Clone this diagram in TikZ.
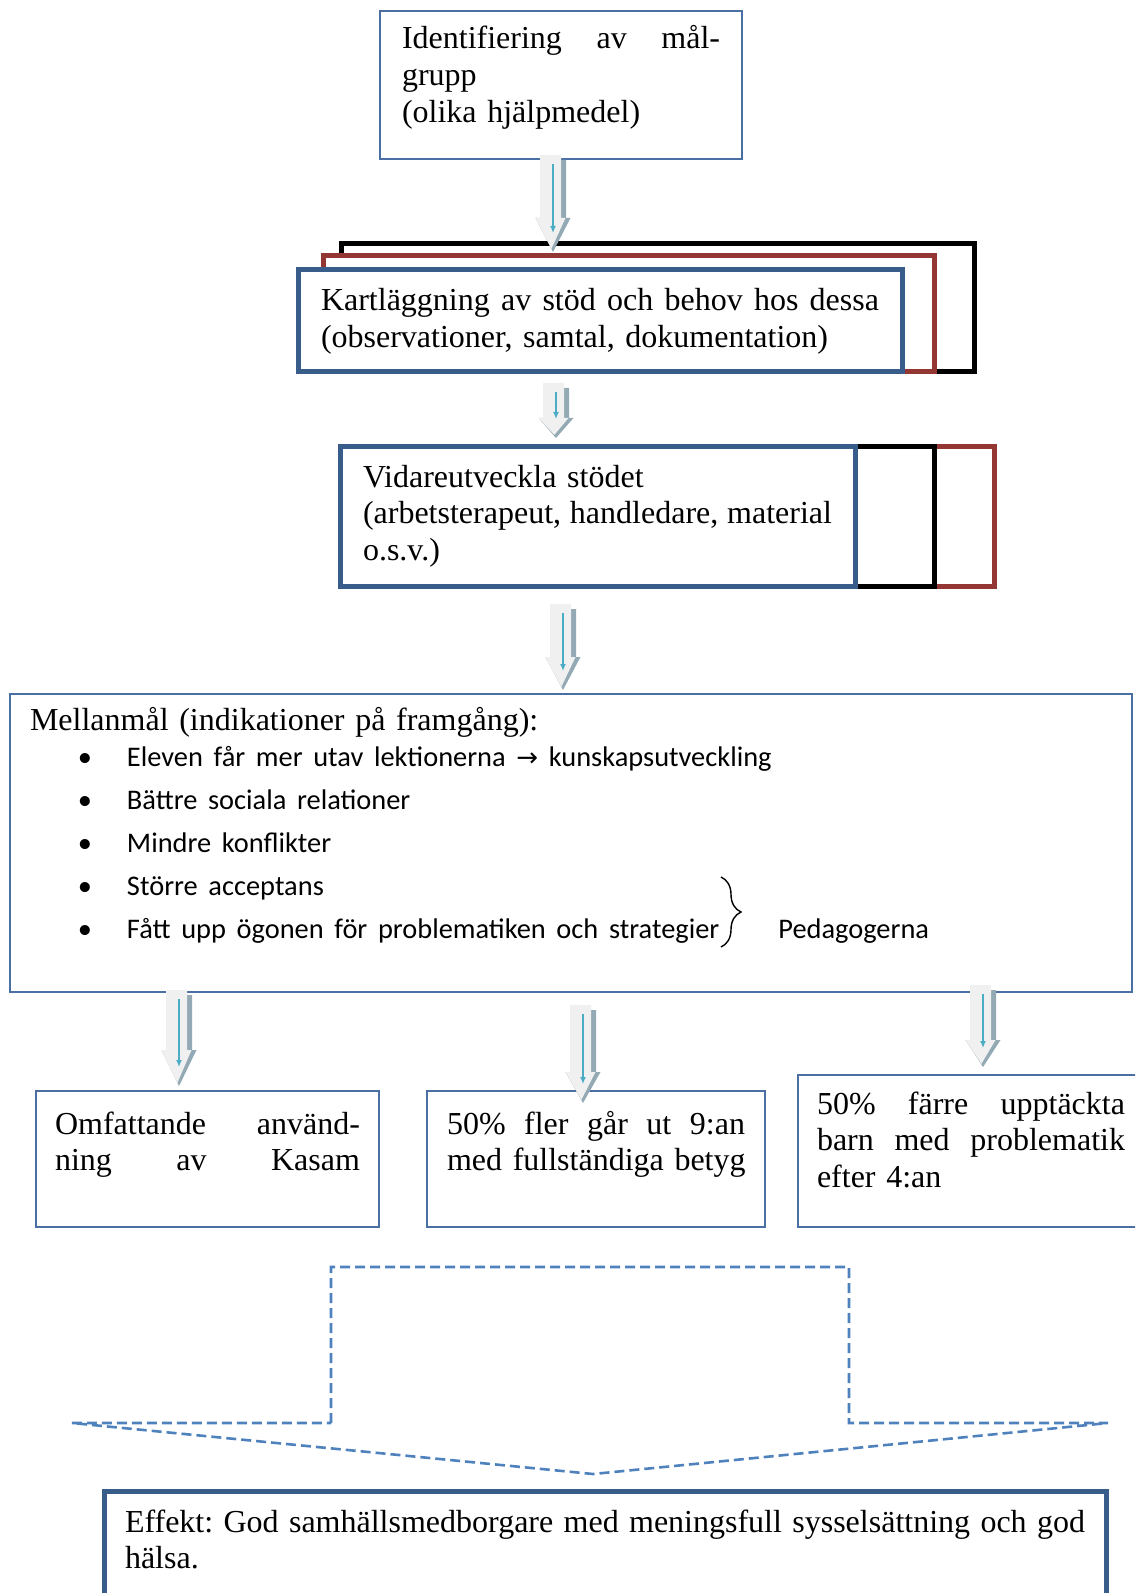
\documentclass[tikz,border=0pt]{standalone}
\usepackage{fontspec}
\setmainfont{Liberation Serif}
\newfontfamily\calibri{Carlito}
\newfontfamily\symfont{DejaVu Sans}
\usetikzlibrary{calc,arrows.meta,decorations.pathreplacing}
\frenchspacing

\definecolor{thickblue}{HTML}{385D8A}
\definecolor{thinblue}{HTML}{4A6FA5}
\definecolor{boxred}{HTML}{943634}
\definecolor{dashblue}{HTML}{4F81BD}
\definecolor{arrowlight}{HTML}{F0F0F0}
\definecolor{arrowdark}{HTML}{93A9B4}
\definecolor{arrowcyan}{HTML}{4BACC6}

\tikzset{
  thinbox/.style={draw=thinblue, line width=0.9pt, fill=white, anchor=north west, outer sep=0pt,
    inner ysep=0pt, align=left, font=\fontsize{16pt}{18.4pt}\selectfont},
  thickbox/.style={thinbox, draw=thickblue, line width=2.5pt},
  backbox/.style={line width=2.5pt, fill=white},
  arrowshade/.style={fill=arrowdark},
  arrowbody/.style={fill=arrowlight},
  arrowline/.style={draw=arrowcyan, line width=0.7pt, -{Latex[length=3.5pt,width=3pt]}},
  bigdash/.style={draw=dashblue, line width=1.3pt, dash pattern=on 5pt off 2.5pt},
}

% justified line, bullet and sans text
\newcommand{\jline}[1]{{\spaceskip=0.25em plus 1fill\xspaceskip=\spaceskip #1}}
\newcommand{\bodysans}{\calibri\fontsize{14.2pt}{18.4pt}\selectfont}
\newcommand{\bul}{\makebox[48.5pt][l]{\hspace*{24pt}\textbullet}}

% block arrow with shading and a thin arrow inside
\newcommand{\fatarrow}[3][16.5pt]{%
  \fill[arrowshade] let \p1=(#2), \p2=(#3) in
    (\x1-6.5pt,\y1-2.5pt) -- (\x1+6.5pt,\y1-2.5pt) -- (\x1+6.5pt,\y2+#1) -- (\x1+8.75pt,\y2+#1)
    -- (\x2,\y2) -- (\x1-8.75pt,\y2+#1) -- (\x1-6.5pt,\y2+#1) -- cycle;
  \fill[arrowbody] let \p1=(#2), \p2=(#3) in
    (\x1-6.5pt,\y1) -- (\x1+4pt,\y1) -- (\x1+4pt,\y2+#1) -- (\x1+6.25pt,\y2+#1)
    -- (\x2-0.8pt,\y2+1.6pt) -- (\x1-8.75pt,\y2+#1) -- (\x1-6.5pt,\y2+#1) -- cycle;
  \draw[arrowline] let \p1=(#2), \p2=(#3) in (\x1,\y1-4.5pt) -- (\x1,\y2+9.5pt);
}

\begin{document}
\begin{tikzpicture}[x=0.5pt,y=-0.5pt]

\useasboundingbox (0,0) rectangle (1135,1593);
\clip (0,0) rectangle (1135,1593);

% Target group
\node[thinbox, text width=159pt, inner xsep=11pt, text height=19pt, text depth=55pt] (ident) at (380,11)
  {\jline{Identifiering av mål-}\\ grupp\\ (olika hjälpmedel)};

% Mapping, three stacked frames
\draw[backbox] (341,244) rectangle (974,372);
\draw[backbox, draw=boxred] (323,256) rectangle (934,372);
\node[thickbox, text width=279pt, inner xsep=11.5pt, text height=20.5pt, text depth=30.5pt] (kart) at (298,270)
  {\jline{Kartläggning av stöd och behov hos dessa}\\ (observationer, samtal, dokumentation)};

% Develop the support
\draw[backbox, draw=boxred] (342,446) rectangle (994,586);
\draw[backbox] (342,446) rectangle (934,586);
\node[thickbox, text width=234.5pt, inner xsep=11.5pt, text height=20.5pt, text depth=49.5pt] (vidare) at (340,446)
  {Vidareutveckla stödet\\ \jline{(arbetsterapeut, handledare, material}\\ o.s.v.)};

% Intermediate goals
\node[thinbox, text width=541pt, inner xsep=10pt, text height=18pt, text depth=131pt] (mellan) at (10,694)
  {Mellanmål (indikationer på framgång):\\
   {\bodysans\bul Eleven får mer utav lektionerna {\symfont\fontsize{13pt}{14pt}\selectfont →} kunskapsutveckling}\\[3pt]
   {\bodysans\bul Bättre sociala relationer}\\[3pt]
   {\bodysans\bul Mindre konflikter}\\[3pt]
   {\bodysans\bul Större acceptans}\\[3pt]
   {\bodysans\bul Fått upp ögonen för problematiken och strategier}};
\node[anchor=base west, inner sep=0pt, font=\bodysans] (peda) at (778,938) {Pedagogerna};
\draw[decorate, decoration={brace, amplitude=10pt}, line width=0.7pt] (721,877) -- (721,947);

% Outcomes
\node[thinbox, text width=152.5pt, inner xsep=9.5pt, text height=21.5pt, text depth=46.5pt] (omf) at (36,1091)
  {\jline{Omfattande använd-}\\ \jline{ning av Kasam}};
\node[thinbox, text width=149pt, inner xsep=10pt, text height=21.5pt, text depth=46.5pt] (betyg) at (427,1091)
  {\jline{50\% fler går ut 9:an}\\ \mbox{med fullständiga betyg}};
\node[thinbox, text width=154pt, inner xsep=9.5pt, text height=19.5pt, text depth=56.5pt] (problem) at (798,1075)
  {\jline{50\% färre upptäckta}\\ \jline{barn med problematik}\\ efter 4:an};

% Dashed block arrow
\draw[bigdash] (331,1423) -- (331,1267) -- (849,1267) -- (849,1423) -- (1108,1423)
  -- (593,1474) -- (72,1423) -- cycle;

% Effect
\node[thickbox, text width=480pt, inner xsep=10.5pt, text height=20.5pt, text depth=54pt] (effekt) at (104,1491)
  {\jline{Effekt: God samhällsmedborgare med meningsfull sysselsättning och god}\\ hälsa.};

% Arrow ends
\coordinate (a1s) at (553,155);  \coordinate (a1e) at (553,252);
\coordinate (a2s) at (556,383);  \coordinate (a2e) at (556,438);
\coordinate (a3s) at (563,604);  \coordinate (a3e) at (563,690);
\coordinate (aAs) at (179,990);  \coordinate (aAe) at (179,1086);
\coordinate (aBs) at (583,1005); \coordinate (aBe) at (583,1103);
\coordinate (aCs) at (983,985);  \coordinate (aCe) at (983,1067);

% Draw the block arrows
\fatarrow[17pt]{a1s}{a1e}
\fatarrow[10pt]{a2s}{a2e}
\fatarrow[16.5pt]{a3s}{a3e}
\fatarrow[18pt]{aAs}{aAe}
\fatarrow[15.5pt]{aBs}{aBe}
\fatarrow[13.5pt]{aCs}{aCe}

\end{tikzpicture}
\end{document}
